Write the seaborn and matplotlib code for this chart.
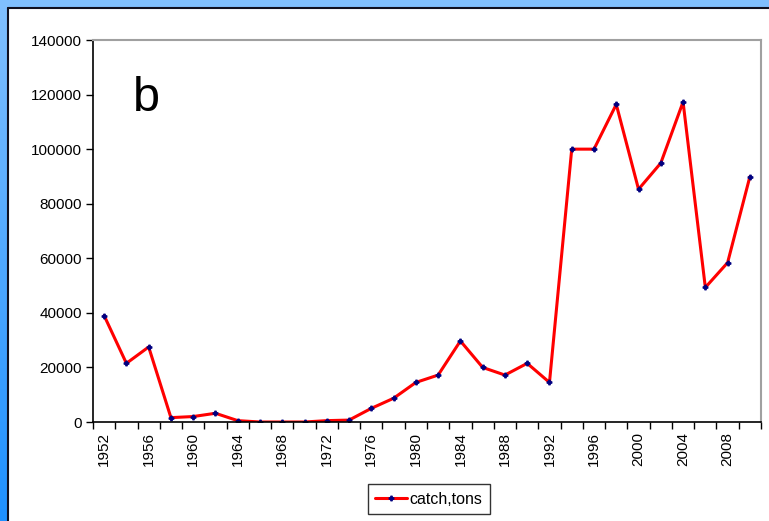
import numpy as np
import matplotlib
matplotlib.use("Agg")
import matplotlib.pyplot as plt
import seaborn as sns
from matplotlib.patches import Rectangle
from matplotlib.lines import Line2D

years = list(range(1952, 2011, 2))
catch = [39000, 21500, 27500, 1600, 2000, 3200, 500, 0, 0, 0,
         500, 700, 5000, 8700, 14500, 17200, 29700, 20000, 17200, 21500,
         14500, 100000, 100000, 116400, 85300, 94900, 117300, 49300, 58400, 89900]
tick_labels = [str(y) for y in years[::2]]
yticks = list(range(0, 140001, 20000))

sns.set_style("white")
plt.rcParams["font.family"] = ["Liberation Sans", "DejaVu Sans"]
plt.rcParams["text.color"] = "black"
plt.rcParams["xtick.color"] = "black"
plt.rcParams["ytick.color"] = "black"

fig = plt.figure(figsize=(7.69, 5.21), dpi=100)
fig.patch.set_facecolor("white")

# blue frame: top strip and left gradient strip
W, H = 769, 521
fig.patches.append(Rectangle((0, 1 - 7 / H), 1, 7 / H, transform=fig.transFigure,
                             facecolor="#80bfff", edgecolor="none", zorder=0))
gax = fig.add_axes([0, 0, 7 / W, 1 - 7 / H])
grad = np.linspace(0, 1, 256).reshape(-1, 1)
cmap = matplotlib.colors.LinearSegmentedColormap.from_list("b", ["#1e90ff", "#80bfff"])
gax.imshow(grad, aspect="auto", cmap=cmap, origin="lower")
gax.axis("off")
fig.lines.append(Line2D([7.5 / W, 7.5 / W], [0, 1 - 7.5 / H], transform=fig.transFigure,
                        color="#101020", lw=1.5))
fig.lines.append(Line2D([7.5 / W, 1], [1 - 7.5 / H, 1 - 7.5 / H], transform=fig.transFigure,
                        color="#101020", lw=1.5))

ax = fig.add_axes([93 / W, 1 - 422 / H, (761 - 93) / W, (422 - 40) / H])
idx = np.arange(len(years))
sns.lineplot(x=idx, y=catch, ax=ax, color="red", linewidth=2.2, marker="P",
             markersize=3.5, markerfacecolor="#000080", markeredgecolor="#000080",
             label="catch,tons", legend=False)

ax.set_xlim(-0.5, len(years) - 0.5)
ax.set_ylim(0, 140000)
ax.set_yticks(yticks)
ax.set_yticklabels([str(v) for v in yticks], fontsize=11)
ax.set_xticks(np.arange(-0.5, len(years), 1))
ax.set_xticklabels([])
ax.set_xticks(idx[::2], minor=True)
ax.set_xticklabels(tick_labels, minor=True, rotation=90, fontsize=11)
ax.tick_params(axis="x", which="major", direction="out", length=5, width=1, color="black", bottom=True)
ax.tick_params(axis="x", which="minor", length=0, pad=7)
ax.tick_params(axis="y", direction="out", length=5, width=1, color="black", left=True, pad=3)
for s in ["left", "bottom"]:
    ax.spines[s].set_color("black")
    ax.spines[s].set_linewidth(1.2)
for s in ["top", "right"]:
    ax.spines[s].set_color("#a0a0a0")
    ax.spines[s].set_linewidth(1.5)
ax.grid(False)

fig.text(133 / W, 1 - 111 / H, "b", fontsize=35, color="black", ha="left", va="baseline")

h, l = ax.get_legend_handles_labels()
leg = fig.legend(h, l, loc="center", bbox_to_anchor=(429 / W, 1 - 499 / H), fontsize=11.5,
                 frameon=True, fancybox=False, handlelength=2.0, handletextpad=0.15,
                 borderpad=0.45, borderaxespad=0)
leg.get_frame().set_edgecolor("black")
leg.get_frame().set_linewidth(1.0)

fig.savefig("out.png", dpi=100)
